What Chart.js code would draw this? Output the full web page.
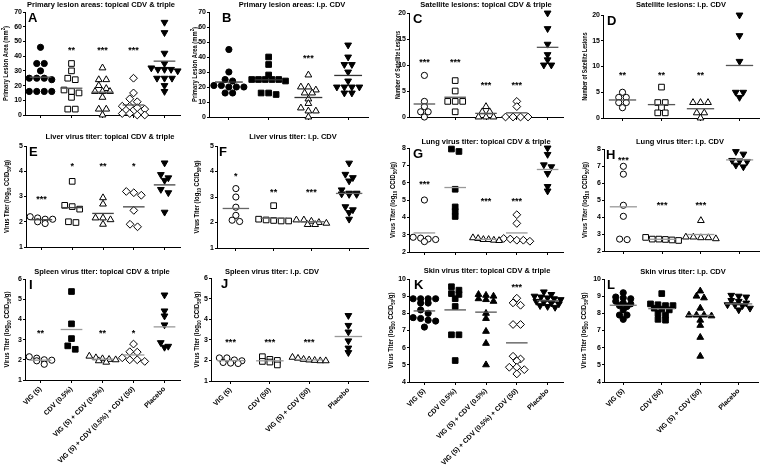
<!DOCTYPE html>
<html><head><meta charset="utf-8">
<script src="https://cdn.jsdelivr.net/npm/chart.js@4.4.1/dist/chart.umd.min.js"></script>
<style>
html,body{margin:0;padding:0;background:#fff;}
#wrap{position:relative;width:760px;height:466px;overflow:hidden;background:#fff;}
#wrap canvas{position:absolute;left:0;top:0;}
</style></head><body><div id="wrap"></div>
<script>
// ---------- categories ----------
const topicalGroups = ['VIG (5)', 'CDV (0.5%)', 'VIG (5) + CDV (0.5%)', 'VIG (5) + CDV (0.5%) + CDV (50)', 'Placebo'];
const ipGroups = ['VIG (5)', 'CDV (50)', 'VIG (5) + CDV (50)', 'Placebo'];

// ---------- A: Primary lesion areas, topical ----------
const valuesA = [
  [46,35,35,30,25,25,24,25,16,16,16,16],
  [35,30,25,24,17,16,15,12,4,4],
  [32,24,24,20,18,16,16,16,12,4,4,0],
  [25,15,11,9,6,6,5,4,1,1,0,0],
  [63,56,42,35,32,31,31,31,30,25,25,25,20,16]
];
const meansA = [25.7,18.2,15.5,6.8,36.6];
const starsA = ['','**','***','***',''];
const starLevelsA = [null,45,45,45,null];

// ---------- B: Primary lesion areas, i.p. ----------
const valuesB = [
  [45,30,25,24,21,21,20,20,20,16,16],
  [40,35,28,25,25,25,25,25,24,16,15,16],
  [28,20,20,18,16,16,12,9,6,4,4,0],
  [48,40,35,35,30,24,20,20,20,20,16,16]
];
const meansB = [23.3,24.8,13,27.7];
const starsB = ['','','***',''];
const starLevelsB = [null,null,40,null];

// ---------- C: Satellite lesions, topical ----------
const valuesC = [[8,3,2,1,1,0],[7,5,3,3,3,1],[2,1,1,0,0,0],[3,2,0,0,0,0],[20,17,14,12,11,10,10]];
const meansC = [2.5,3.8,0.7,0.8,13.4];
const starsC = ['***','***','***','***',''];
const starLevelsC = [10.8,10.8,6.3,6.3,null];

// ---------- D: Satellite lesions, i.p. ----------
const valuesD = [[5,4,4,3,3,2],[6,3,3,2,1,1],[3,3,3,1,1,0],[20,16,11,5,5,4]];
const meansD = [3.5,2.6,1.8,10.2];
const starsD = ['**','**','**',''];
const starLevelsD = [8.5,8.5,8.5,null];

// ---------- E: Liver, topical ----------
const valuesE = [[2.2,2.15,2.1,2.1,2.0,1.93],[3.6,2.65,2.6,2.5,2.0,1.97],[2.95,2.7,2.15,2.15,2.08,1.9],[3.2,3.15,3.05,2.45,1.9,1.8],[4.33,3.87,3.74,3.64,3.28,3.15,2.38]];
const meansE = [2.08,2.56,2.33,2.59,3.46];
const starsE = ['***','*','**','*',''];
const starLevelsE = [2.95,4.25,4.25,4.25,null];

// ---------- F: Liver, i.p. ----------
const valuesF = [[3.33,3.0,2.6,2.28,2.09,2.04],[2.66,2.13,2.1,2.08,2.06,2.06],[2.1,2.1,2.05,2.0,1.97,1.92,1.92],[4.33,3.89,3.76,3.63,3.28,3.15,3.15,3.12,3.1,3.1,2.62,2.5,2.39,2.13]];
const meansF = [2.55,2.17,2.03,3.14];
const starsF = ['*','**','***',''];
const starLevelsF = [3.87,3.24,3.24,null];

// ---------- G: Lung, topical ----------
const valuesG = [[5.0,2.85,2.8,2.75,2.72,2.6],[7.94,7.8,5.62,4.6,4.34,4.05],[2.82,2.78,2.72,2.72,2.68,2.66],[4.15,3.65,2.78,2.75,2.68,2.68,2.62],[8.0,7.63,7.03,6.92,6.53,5.78,5.52]];
const meansG = [3.1,5.72,2.73,3.1,6.76];
const starsG = ['***','','***','***',''];
const starLevelsG = [5.97,null,5.0,5.0,null];

// ---------- H: Lung, i.p. ----------
const valuesH = [[6.98,6.52,4.69,4.04,2.7,2.67],[2.8,2.7,2.7,2.68,2.65,2.62],[3.79,2.82,2.82,2.78,2.78,2.72],[7.85,7.7,7.33,7.3,7.27,7.05,6.95]];
const meansH = [4.6,2.69,2.97,7.36];
const starsH = ['***','***','***',''];
const starLevelsH = [7.43,4.75,4.75,null];

// ---------- I: Spleen, topical ----------
const valuesI = [[2.15,2.08,2.0,1.98,1.95,1.78],[5.38,3.78,3.05,2.69,2.52],[2.18,2.1,2.05,2.02,2.0,1.95,1.88],[2.78,2.4,2.38,2.1,2.0,2.0,1.92],[5.21,4.42,4.17,3.73,2.85,2.67,2.62]];
const meansI = [1.98,3.5,2.03,2.24,3.63];
const starsI = ['**','','**','*',''];
const starLevelsI = [3.36,null,3.36,3.36,null];

// ---------- J: Spleen, i.p. ----------
const valuesJ = [[2.12,2.12,2.02,1.98,1.9,1.87,1.85],[2.18,2.05,2.0,1.95,1.92,1.78],[2.15,2.1,2.05,2.02,2.0,1.98,1.98],[4.18,3.7,3.38,2.95,2.6,2.38]];
const meansJ = [1.99,1.98,2.03,3.16];
const starsJ = ['***','***','***',''];
const starLevelsJ = [2.92,2.92,2.92,null];

// ---------- K: Skin, topical ----------
const valuesK = [[8.85,8.85,8.85,8.85,8.6,8.6,8.2,8.0,7.75,7.7,7.6,7.55,7.2],[9.55,9.35,9.15,9.1,8.85,8.4,6.75,6.75,5.25],[9.1,9.05,9.0,8.85,8.8,8.7,8.0,7.7,6.95,6.25,5.0],[8.88,8.61,8.47,7.35,7.35,5.5,5.34,5.23,4.86,4.86,4.72,4.47],[9.25,9.1,9.0,8.95,8.9,8.85,8.8,8.7,8.65,8.6,8.55,8.45,8.4,8.35]];
const meansK = [8.14,8.2,8.07,6.28,8.73];
const starsK = ['','','','***',''];
const starLevelsK = [null,null,null,9.6,null];

// ---------- L: Skin, i.p. ----------
const valuesL = [[9.2,8.95,8.9,8.85,8.7,8.6,8.55,8.45,8.4,8.2,7.9,7.9,7.65],[9.15,8.55,8.5,8.45,8.45,8.3,8.25,8.2,8.0,7.9,7.65,7.6],[9.3,9.0,8.9,8.3,7.9,7.9,7.9,7.85,7.6,7.3,6.6,5.5],[9.05,9.0,8.95,8.75,8.7,8.6,8.5,8.5,8.45,8.3,8.2]];
const meansL = [8.47,8.27,7.88,8.55];
const starsL = ['','','',''];
const starLevelsL = [null,null,null,null];

// ---------- axis titles (rich text parts: 0 normal, -1 subscript, 1 superscript) ----------
const lesionTitle = [['Primary Lesion Area (mm',0],['2',1],[')',0]];
const satTitle = [['Number of Satellite Lesions',0]];
const titerTitle = [['Virus Titer (log',0],['10',-1],[' CCID',0],['50',-1],['/g)',0]];

// ---------- marker styles ----------
const topicalShapes = [{s:'circle',r:3.1,rot:0},{s:'rect',r:4.0,rot:0},{s:'triangle',r:3.9,rot:0},{s:'rectRot',r:3.9,rot:0},{s:'triangle',r:3.9,rot:180}];
const ipShapes = [{s:'circle',r:3.1,rot:0},{s:'rect',r:4.0,rot:0},{s:'triangle',r:3.9,rot:0},{s:'triangle',r:3.9,rot:180}];

const panels = [
 {letter:'A', title:'Primary lesion areas: topical CDV & triple', values:valuesA, means:meansA, stars:starsA, starLevels:starLevelsA, groups:topicalGroups, shapes:topicalShapes, filled:[1,0,0,0,1], y:[0,70,10], yTitle:lesionTitle, yTitleLen:75, box:[25,12,180,115], titlePos:[101,5], letterX:28, yTitleX:6, meanColor:'#555', xLabels:false},
 {letter:'B', title:'Primary lesion areas: i.p. CDV', values:valuesB, means:meansB, stars:starsB, starLevels:starLevelsB, groups:ipGroups, shapes:ipShapes, filled:[1,1,0,1], y:[0,70,10], yTitle:lesionTitle, yTitleLen:75, box:[209,12,368,117], titlePos:[292,5], letterX:222, yTitleX:195, meanColor:'#333', xLabels:false},
 {letter:'C', title:'Satellite lesions: topical CDV & triple', values:valuesC, means:meansC, stars:starsC, starLevels:starLevelsC, groups:topicalGroups, shapes:topicalShapes, filled:[0,0,0,0,1], y:[0,20,5], yTitle:satTitle, yTitleLen:68, box:[409,13,563,117], titlePos:[486,5], letterX:413, yTitleX:398, meanColor:'#555', xLabels:false},
 {letter:'D', title:'Satellite lesions: i.p. CDV', values:valuesD, means:meansD, stars:starsD, starLevels:starLevelsD, groups:ipGroups, shapes:ipShapes, filled:[0,0,0,1], y:[0,20,5], yTitle:satTitle, yTitleLen:68, box:[603,15,759,118], titlePos:[681,5], letterX:607, yTitleX:585, meanColor:'#555', xLabels:false},
 {letter:'E', title:'Liver virus titer: topical CDV & triple', values:valuesE, means:meansE, stars:starsE, starLevels:starLevelsE, groups:topicalGroups, shapes:topicalShapes, filled:[0,0,0,0,1], y:[1,5,1], yTitle:titerTitle, yTitleLen:73, box:[26,146,180,247], titlePos:[110,137], letterX:29, yTitleX:7, meanColor:'#444', xLabels:false},
 {letter:'F', title:'Liver virus titer: i.p. CDV', values:valuesF, means:meansF, stars:starsF, starLevels:starLevelsF, groups:ipGroups, shapes:ipShapes, filled:[0,0,0,1], y:[1,5,1], yTitle:titerTitle, yTitleLen:73, box:[217,146,368,248], titlePos:[293,137], letterX:219, yTitleX:197, meanColor:'#666', xLabels:false},
 {letter:'G', title:'Lung virus titer: topical CDV & triple', values:valuesG, means:meansG, stars:starsG, starLevels:starLevelsG, groups:topicalGroups, shapes:topicalShapes, filled:[0,1,0,0,1], y:[2,8,1], yTitle:titerTitle, yTitleLen:76, box:[409,148,563,252], titlePos:[486,142], letterX:413, yTitleX:393, meanColor:'#999', xLabels:false},
 {letter:'H', title:'Lung virus titer: i.p. CDV', values:valuesH, means:meansH, stars:starsH, starLevels:starLevelsH, groups:ipGroups, shapes:ipShapes, filled:[0,0,0,1], y:[2,8,1], yTitle:titerTitle, yTitleLen:76, box:[604,149,759,251], titlePos:[680,142], letterX:606, yTitleX:585, meanColor:'#999', xLabels:false},
 {letter:'I', title:'Spleen virus titer: topical CDV & triple', values:valuesI, means:meansI, stars:starsI, starLevels:starLevelsI, groups:topicalGroups, shapes:topicalShapes, filled:[0,1,0,0,1], y:[1,6,1], yTitle:titerTitle, yTitleLen:76, box:[25,279,180,380], titlePos:[102,272], letterX:29, yTitleX:7, meanColor:'#999', xLabels:true},
 {letter:'J', title:'Spleen virus titer: i.p. CDV', values:valuesJ, means:meansJ, stars:starsJ, starLevels:starLevelsJ, groups:ipGroups, shapes:ipShapes, filled:[0,0,0,1], y:[1,6,1], yTitle:titerTitle, yTitleLen:76, box:[211,278,368,381], titlePos:[272,272], letterX:221, yTitleX:197, meanColor:'#999', xLabels:true},
 {letter:'K', title:'Skin virus titer: topical CDV & triple', values:valuesK, means:meansK, stars:starsK, starLevels:starLevelsK, groups:topicalGroups, shapes:topicalShapes, filled:[1,1,1,0,1], y:[4,10,1], yTitle:titerTitle, yTitleLen:76, box:[409,279,563,382], titlePos:[487,271], letterX:414, yTitleX:391, meanColor:'#555', xLabels:true},
 {letter:'L', title:'Skin virus titer: i.p. CDV', values:valuesL, means:meansL, stars:starsL, starLevels:starLevelsL, groups:ipGroups, shapes:ipShapes, filled:[1,1,1,1], y:[4,10,1], yTitle:titerTitle, yTitleLen:76, box:[604,279,758,382], titlePos:[683,272], letterX:607, yTitleX:584, meanColor:'#777', xLabels:true}
];

const FONT = '"Liberation Sans", Arial, Helvetica, sans-serif';
Chart.defaults.font.family = FONT;
Chart.defaults.color = '#000';

// column-scatter layout: close values form centred rows
function layoutGroup(vals, gi, pxPerUnit, catW) {
  const sorted = vals.slice().sort((a,b)=>b-a);
  const thr = 4 / pxPerUnit;
  const pts = [];
  let i = 0;
  while (i < sorted.length) {
    let j = i;
    while (j + 1 < sorted.length && sorted[i] - sorted[j+1] <= thr) j++;
    const k = j - i + 1;
    const spPx = k > 1 ? Math.min(7.5, 0.85 * catW / (k - 1)) : 0;
    for (let m = 0; m < k; m++) pts.push({x: gi + (m - (k-1)/2) * spPx / catW, y: sorted[i+m]});
    i = j + 1;
  }
  return pts;
}

// rotated axis title with sub/superscripts, squeezed to a target length
function drawRich(ctx, parts, x, cy, len) {
  const base = 7.5, small = 5.5;
  let total = 0;
  parts.forEach(([t,k]) => { ctx.font = 'bold ' + (k ? small : base) + 'px ' + FONT; total += ctx.measureText(t).width; });
  ctx.save();
  ctx.translate(x, cy);
  ctx.rotate(-Math.PI/2);
  ctx.scale(Math.min(1, len / total), 1);
  ctx.textAlign = 'left'; ctx.textBaseline = 'middle';
  let cx = -total/2;
  parts.forEach(([t,k]) => {
    ctx.font = 'bold ' + (k ? small : base) + 'px ' + FONT;
    const dy = k === -1 ? 2.2 : (k === 1 ? -2.5 : 0);
    ctx.fillText(t, cx, dy);
    cx += ctx.measureText(t).width;
  });
  ctx.restore();
}

function textPlugin(p) {
  return {
    id: 'txt' + p.letter,
    afterDraw(chart) {
      const ctx = chart.ctx;
      ctx.save();
      ctx.fillStyle = '#000';
      ctx.font = 'bold 7.5px ' + FONT;
      ctx.textAlign = 'center'; ctx.textBaseline = 'middle';
      ctx.fillText(p.title, p.titlePos[0], p.titlePos[1]);
      ctx.font = 'bold 13px ' + FONT;
      ctx.textAlign = 'left'; ctx.textBaseline = 'alphabetic';
      ctx.fillText(p.letter, p.letterX, p.box[1] + 9.5);
      const xs = chart.scales.x, ys = chart.scales.y;
      ctx.font = 'bold 9px ' + FONT;
      ctx.textAlign = 'center';
      p.stars.forEach((s, i) => {
        if (!s) return;
        ctx.fillText(s, xs.getPixelForValue(i), ys.getPixelForValue(p.starLevels[i]) + 4);
      });
      drawRich(ctx, p.yTitle, p.yTitleX, (p.box[1] + p.box[3]) / 2, p.yTitleLen);
      ctx.restore();
    }
  };
}

const Y_AXIS_W = 22;
const wrap = document.getElementById('wrap');
panels.forEach(p => {
  const cv = document.createElement('canvas');
  cv.width = 760; cv.height = 466;
  cv.style.width = '760px'; cv.style.height = '466px';
  wrap.appendChild(cv);
  const [L, T, R, B] = p.box;
  const n = p.groups.length;
  const catW = (R - L) / n;
  const pxPerUnit = (B - T) / (p.y[1] - p.y[0]);
  const xAxisH = p.xLabels ? 466 - B : 6;
  const datasets = [];
  p.means.forEach((m, i) => datasets.push({
    type: 'line', data: [{x: i - 0.35, y: m}, {x: i + 0.35, y: m}],
    borderColor: p.meanColor, borderWidth: 1.3, pointRadius: 0, fill: false, clip: false
  }));
  p.values.forEach((vals, i) => {
    const sh = p.shapes[i];
    datasets.push({
      type: 'scatter', data: layoutGroup(vals, i, pxPerUnit, catW),
      pointStyle: sh.s, pointRotation: sh.rot, pointRadius: sh.r, pointHoverRadius: sh.r,
      backgroundColor: p.filled[i] ? '#000' : '#fff', borderColor: '#000', borderWidth: 1, clip: false
    });
  });
  const tickFont = {family: FONT, size: 7, weight: 'bold'};
  new Chart(cv, {
    type: 'scatter',
    data: {datasets},
    options: {
      responsive: false, animation: false, devicePixelRatio: 1, events: [],
      layout: {autoPadding: false, padding: {left: L - Y_AXIS_W, top: T, right: 760 - R, bottom: 466 - B - xAxisH}},
      plugins: {legend: {display: false}, tooltip: {enabled: false}, title: {display: false}},
      scales: {
        x: {
          type: 'linear', min: -0.5, max: n - 0.5,
          afterFit: s => { s.height = xAxisH; },
          afterBuildTicks: s => { s.ticks = p.groups.map((g, i) => ({value: i})); },
          ticks: {display: p.xLabels, autoSkip: false, minRotation: 45, maxRotation: 45, padding: 2, font: tickFont, color: '#000',
                  callback: v => p.groups[Math.round(v)]},
          grid: {display: true, drawOnChartArea: false, drawTicks: true, tickLength: 3, color: '#000', lineWidth: 1},
          border: {display: true, color: '#000', width: 1}
        },
        y: {
          type: 'linear', min: p.y[0], max: p.y[1],
          afterFit: s => { s.width = Y_AXIS_W; },
          ticks: {stepSize: p.y[2], padding: 1, font: tickFont, color: '#000'},
          grid: {display: true, drawOnChartArea: false, drawTicks: true, tickLength: 2, color: '#000', lineWidth: 1},
          border: {display: true, color: '#000', width: 1}
        }
      }
    },
    plugins: [textPlugin(p)]
  });
});
</script></body></html>
